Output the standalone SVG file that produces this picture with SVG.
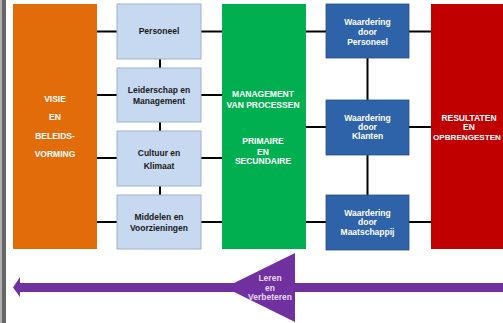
<svg xmlns="http://www.w3.org/2000/svg" width="503" height="323" viewBox="0 0 503 323">
<style>
.t{font-family:"Liberation Sans",Arial,sans-serif;font-weight:bold;font-size:8.5px;text-anchor:middle}
.w{fill:#ffffff}
.d{fill:#1a1a1a}
.lb{fill:#c6d9f1;stroke:#9fb3cc;stroke-width:1}
.db{fill:#2e63a9;stroke:#2a4f80;stroke-width:0.8}
.c{stroke:#000;stroke-width:2;fill:none}
</style>
<rect x="0" y="0" width="503" height="323" fill="#ffffff"/>
<rect x="0" y="0" width="2" height="323" fill="#b0b0b0"/>
<rect x="2" y="0" width="4" height="323" fill="#666666"/>
<g id="connectors">
<path class="c" d="M97 31.5H117M97 95H117M97 158H117M97 222H117"/>
<path class="c" d="M160 59V68M160 122V131M160 186V195"/>
<path class="c" d="M201 31.5H222M201 95H222M201 158H222M201 222H222"/>
<path class="c" d="M306 31.5H326M306 127H326M306 222H326"/>
<path class="c" d="M367.5 58V100M367.5 155V195"/>
<path class="c" d="M409 31.5H431M409 127H431M409 222H431"/>
</g>
<g id="visie">
<rect x="13" y="4" width="84" height="245" fill="#e36c0a"/>
<text class="t w" x="55" y="102">VISIE</text>
<text class="t w" x="55" y="120">EN</text>
<text class="t w" x="55" y="139">BELEIDS-</text>
<text class="t w" x="55" y="157">VORMING</text>
</g>
<g id="personeel">
<rect class="lb" x="117" y="4" width="84" height="55"/>
<text class="t d" x="159" y="34">Personeel</text>
</g>
<g id="leiderschap">
<rect class="lb" x="117" y="68" width="84" height="54"/>
<text class="t d" x="159" y="93">Leiderschap en</text>
<text class="t d" x="159" y="104">Management</text>
</g>
<g id="cultuur">
<rect class="lb" x="117" y="131" width="84" height="55"/>
<text class="t d" x="159" y="156">Cultuur en</text>
<text class="t d" x="159" y="169">Klimaat</text>
</g>
<g id="middelen">
<rect class="lb" x="117" y="195" width="84" height="54"/>
<text class="t d" x="159" y="220">Middelen en</text>
<text class="t d" x="159" y="231">Voorzieningen</text>
</g>
<g id="processen">
<rect x="222" y="4" width="84" height="245" fill="#00b050"/>
<text class="t w" x="263" y="97">MANAGEMENT</text>
<text class="t w" x="263" y="108">VAN PROCESSEN</text>
<text class="t w" x="263" y="144">PRIMAIRE</text>
<text class="t w" x="263" y="155">EN</text>
<text class="t w" x="263" y="164">SECUNDAIRE</text>
</g>
<g id="wpersoneel">
<rect class="db" x="326" y="4" width="83" height="54"/>
<text class="t w" x="367.5" y="25">Waardering</text>
<text class="t w" x="367.5" y="35">door</text>
<text class="t w" x="367.5" y="45">Personeel</text>
</g>
<g id="wklanten">
<rect class="db" x="326" y="100" width="83" height="55"/>
<text class="t w" x="367.5" y="121">Waardering</text>
<text class="t w" x="367.5" y="130">door</text>
<text class="t w" x="367.5" y="139">Klanten</text>
</g>
<g id="wmaatschappij">
<rect class="db" x="326" y="195" width="83" height="55"/>
<text class="t w" x="367.5" y="216">Waardering</text>
<text class="t w" x="367.5" y="225">door</text>
<text class="t w" x="367.5" y="235">Maatschappij</text>
</g>
<g id="resultaten">
<rect x="431" y="4" width="80" height="245" fill="#c00000"/>
<text class="t w" x="469" y="121">RESULTATEN</text>
<text class="t w" x="469" y="130">EN</text>
<text class="t w" x="467" y="140" style="font-size:8.1px">OPBRENGESTEN</text>
</g>
<g id="leren">
<rect x="20" y="283" width="483" height="9" fill="#7030a0"/>
<polygon points="13,287.5 20,277 20,297" fill="#7030a0"/>
<polygon points="225,287.5 295,253 295,322" fill="#7030a0"/>
<text class="t" x="270" y="281" fill="#e6d8f2">Leren</text>
<text class="t" x="270" y="291" fill="#e6d8f2">en</text>
<text class="t" x="270" y="300" fill="#e6d8f2">Verbeteren</text>
</g>
</svg>
